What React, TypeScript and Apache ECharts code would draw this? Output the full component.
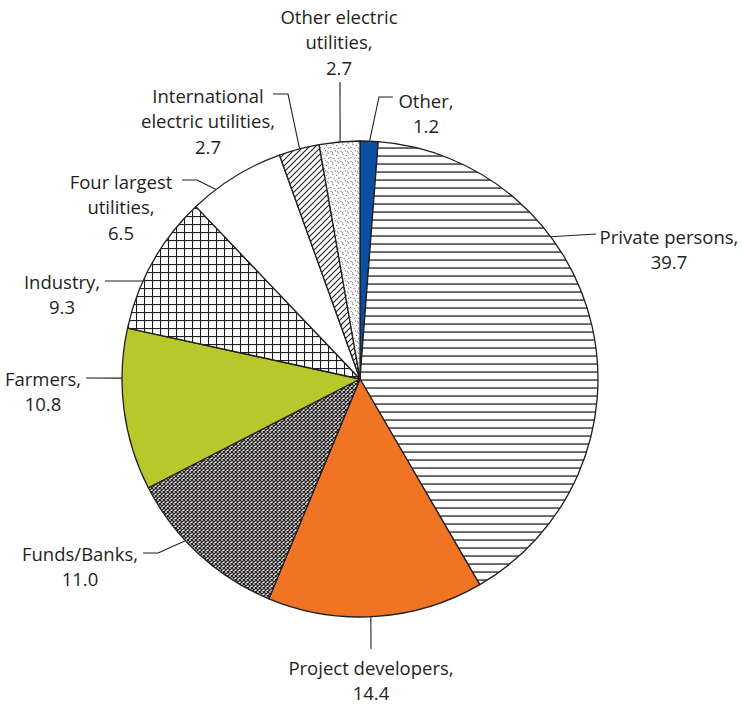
import React, { useEffect, useRef } from 'react';
import * as echarts from 'echarts';

// ---- data ----
const categories = [
  'Other',
  'Private persons',
  'Project developers',
  'Funds/Banks',
  'Farmers',
  'Industry',
  'Four largest\nutilities',
  'International\nelectric utilities',
  'Other electric\nutilities',
];
const values = [1.2, 39.7, 14.4, 11.0, 10.8, 9.3, 6.5, 2.7, 2.7];

// ---- style / layout ----
const INK = '#231f20';
const CX = 360;
const CY = 379;
const R = 238;
const LINE_H = 25.5;

function tile(w: number, h: number, body: string) {
  const svg = `<svg xmlns="http://www.w3.org/2000/svg" width="${w}" height="${h}"><rect width="${w}" height="${h}" fill="#ffffff"/>${body}</svg>`;
  return {
    image: 'data:image/svg+xml;charset=utf-8,' + encodeURIComponent(svg),
    repeat: 'repeat',
    imageWidth: w,
    imageHeight: h,
  } as any;
}

const horizLines = tile(8, 8, `<rect x="0" y="3.4" width="8" height="1.3" fill="${INK}"/>`);
const squareGrid = tile(8, 8, `<rect x="0" y="0" width="8" height="1.1" fill="${INK}"/><rect x="0" y="0" width="1.1" height="8" fill="${INK}"/>`);
const crossHatch = tile(4, 4, `<path d="M-1,-1L5,5M5,-1L-1,5" stroke="${INK}" stroke-width="1.25"/>`);
const diagLines = tile(6, 6, `<path d="M-1,7L7,-1M-1,1L1,-1M5,7L7,5" stroke="${INK}" stroke-width="1.1"/>`);
const dots = tile(
  10,
  10,
  [
    [1, 1.5], [5.5, 0.8], [8.5, 3], [3, 4.5], [6.5, 5.5], [0.8, 7.5], [4.2, 8.6], [8.8, 8.2], [2.4, 2.8], [7.4, 1.8],
  ]
    .map(([x, y]) => `<circle cx="${x}" cy="${y}" r="0.6" fill="#555"/>`)
    .join('')
);

const fills: any[] = [
  '#0b4fa3',
  horizLines,
  '#f07423',
  crossHatch,
  '#b8c72a',
  squareGrid,
  '#ffffff',
  diagLines,
  dots,
];

// label annotation placement: text centre x, first-line centre y,
// angle (deg clockwise from 12 o'clock) where the leader touches the rim,
// optional elbow, and leader end point
const labelPlacement: { tx: number; ty: number; angle: number; elbow?: number[]; end: number[] }[] = [
  { tx: 426, ty: 100, angle: 2.3, elbow: [379, 97], end: [393, 97] },
  { tx: 669, ty: 236, angle: 53.3, end: [596, 234] },
  { tx: 371, ty: 667, angle: 177.4, end: [371, 649] },
  { tx: 80, ty: 553, angle: 227.2, elbow: [158, 553], end: [143, 553] },
  { tx: 43, ty: 378, angle: 270.2, end: [86, 378] },
  { tx: 62, ty: 281, angle: 294.3, end: [105, 281] },
  { tx: 121, ty: 181, angle: 322.8, elbow: [197, 180], end: [182, 180] },
  { tx: 208, ty: 95, angle: 345.3, elbow: [288, 94], end: [273, 94] },
  { tx: 339, ty: 16, angle: 355.2, end: [340, 82] },
];

export default function App() {
  const ref = useRef<HTMLDivElement>(null);

  useEffect(() => {
    if (!ref.current) return;
    const chart = echarts.init(ref.current, null, { renderer: 'svg' });
    const data = categories.map((name, i) => ({
      name,
      value: values[i],
      itemStyle: { color: fills[i] },
    }));
    chart.setOption({
      animation: false,
      backgroundColor: '#ffffff',
      series: [
        {
          type: 'pie',
          center: [CX, CY],
          radius: [0, R],
          startAngle: 90,
          clockwise: true,
          silent: true,
          avoidLabelOverlap: false,
          data,
          itemStyle: { borderColor: INK, borderWidth: 1.3 },
          label: {
            show: true,
            position: 'outside',
            formatter: (p: any) => `${p.name},\n${Number(p.value).toFixed(1)}`,
            fontFamily: '"Open Sans", "Noto Sans", sans-serif',
            fontSize: 18.5,
            lineHeight: LINE_H,
            color: INK,
          },
          labelLine: {
            show: true,
            lineStyle: { color: INK, width: 1.1 },
          },
          labelLayout: (params: any) => {
            const L = labelPlacement[params.dataIndex];
            const a = (L.angle * Math.PI) / 180;
            const start = [CX + R * Math.sin(a), CY - R * Math.cos(a)];
            return {
              x: L.tx,
              y: L.ty - LINE_H / 2,
              align: 'center',
              verticalAlign: 'top',
              fontSize: 18.5,
              labelLinePoints: [start, L.elbow ?? start, L.end],
            };
          },
        },
      ],
    });
    return () => chart.dispose();
  }, []);

  return (
    <div
      ref={ref}
      style={{ position: 'absolute', left: 0, top: 0, width: 742, height: 704 }}
    />
  );
}
